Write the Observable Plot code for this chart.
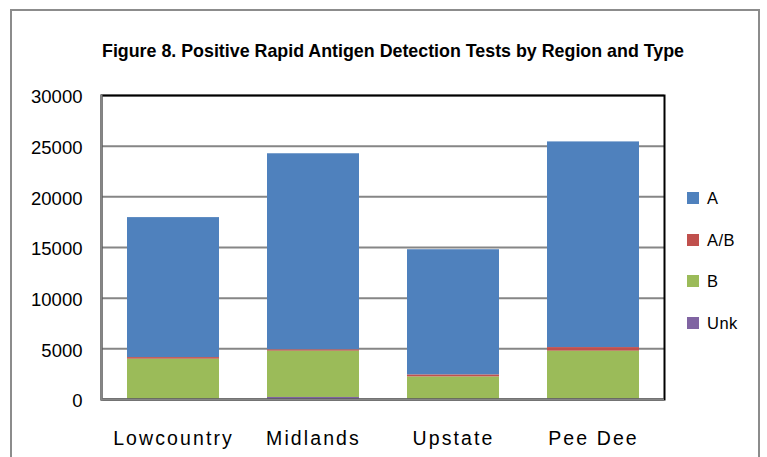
<!DOCTYPE html>
<html>
<head>
<meta charset="utf-8">
<script src="https://cdn.jsdelivr.net/npm/d3@7"></script>
<script src="https://cdn.jsdelivr.net/npm/@observablehq/plot@0.6"></script>
<style>
  html, body { margin: 0; padding: 0; background: #fff; }
  #wrap { position: relative; width: 767px; height: 457px; overflow: hidden; font-family: "Liberation Sans", Arial, sans-serif; }
  #border { position: absolute; left: 10px; top: 9px; width: 750px; height: 470px; border: 2px solid #8c8c8c; box-sizing: border-box; }
  #title { position: absolute; left: 0; top: 0; }
  #chart { position: absolute; left: 0; top: 0; }
  #legend { position: absolute; left: 687px; top: 192px; }
  .item { display: flex; align-items: center; height: 12px; margin-bottom: 29.5px; }
  .sw { width: 12px; height: 12px; margin-right: 8px; }
  .lab { font-size: 16.5px; color: #000; letter-spacing: 0.5px; line-height: 12px; }
  g[aria-label="x-axis tick label"] text { letter-spacing: 2.1px; }
</style>
</head>
<body>
<div id="wrap">
  <div id="border"></div>
  <svg id="title" width="767" height="80">
    <text x="102" y="57" font-family="Liberation Sans, Arial, sans-serif" font-weight="bold" font-size="19" textLength="582" lengthAdjust="spacingAndGlyphs">Figure 8. Positive Rapid Antigen Detection Tests by Region and Type</text>
  </svg>
  <div id="chart"></div>
  <div id="legend"></div>
</div>
<script>
const regions = ["Lowcountry", "Midlands", "Upstate", "Pee Dee"];
const types = ["A", "A/B", "B", "Unk"];
const colors = ["#4F81BD", "#C0504D", "#9BBB59", "#8064A2"];
const valuesA = [13815, 19360, 12370, 20300];
const valuesAB = [165, 130, 200, 360];
const valuesB = [3950, 4560, 2200, 4730];
const valuesUnk = [20, 200, 10, 30];
const yTicks = [0, 5000, 10000, 15000, 20000, 25000, 30000];

const series = {"A": valuesA, "A/B": valuesAB, "B": valuesB, "Unk": valuesUnk};
const data = [];
for (const t of types) {
  regions.forEach((r, i) => data.push({region: r, type: t, value: series[t][i]}));
}

const chart = Plot.plot({
  width: 767,
  height: 457,
  marginLeft: 101,
  marginRight: 103,
  marginTop: 95,
  marginBottom: 58,
  style: {fontFamily: "Liberation Sans, Arial, sans-serif", background: "transparent", color: "#000"},
  x: {domain: regions, paddingInner: 0.346, paddingOuter: 0.173, label: null},
  y: {domain: [0, 30000], label: null},
  color: {domain: types, range: colors},
  marks: [
    Plot.gridY(yTicks, {stroke: "#868686", strokeOpacity: 1, strokeWidth: 2}),
    Plot.barY(data, {x: "region", y: "value", fill: "type", order: ["Unk", "B", "A/B", "A"], inset: 0}),
    Plot.frame({stroke: "#000", strokeWidth: 2}),
    Plot.frame({anchor: "left", stroke: "#868686", strokeWidth: 2}),
    Plot.ruleY([0], {stroke: "#868686", strokeWidth: 2}),
    Plot.axisY(yTicks, {tickSize: 0, tickPadding: 19, fontSize: 18.5, dy: 2, tickFormat: d => String(d)}),
    Plot.axisX({tickSize: 0, tickPadding: 32, fontSize: 19.5})
  ]
});
document.getElementById("chart").appendChild(chart);

const legend = document.getElementById("legend");
types.forEach((t, i) => {
  const item = document.createElement("div");
  item.className = "item";
  const sw = document.createElement("div");
  sw.className = "sw";
  sw.style.background = colors[i];
  const lab = document.createElement("span");
  lab.className = "lab";
  lab.textContent = t;
  item.appendChild(sw);
  item.appendChild(lab);
  legend.appendChild(item);
});
</script>
</body>
</html>
